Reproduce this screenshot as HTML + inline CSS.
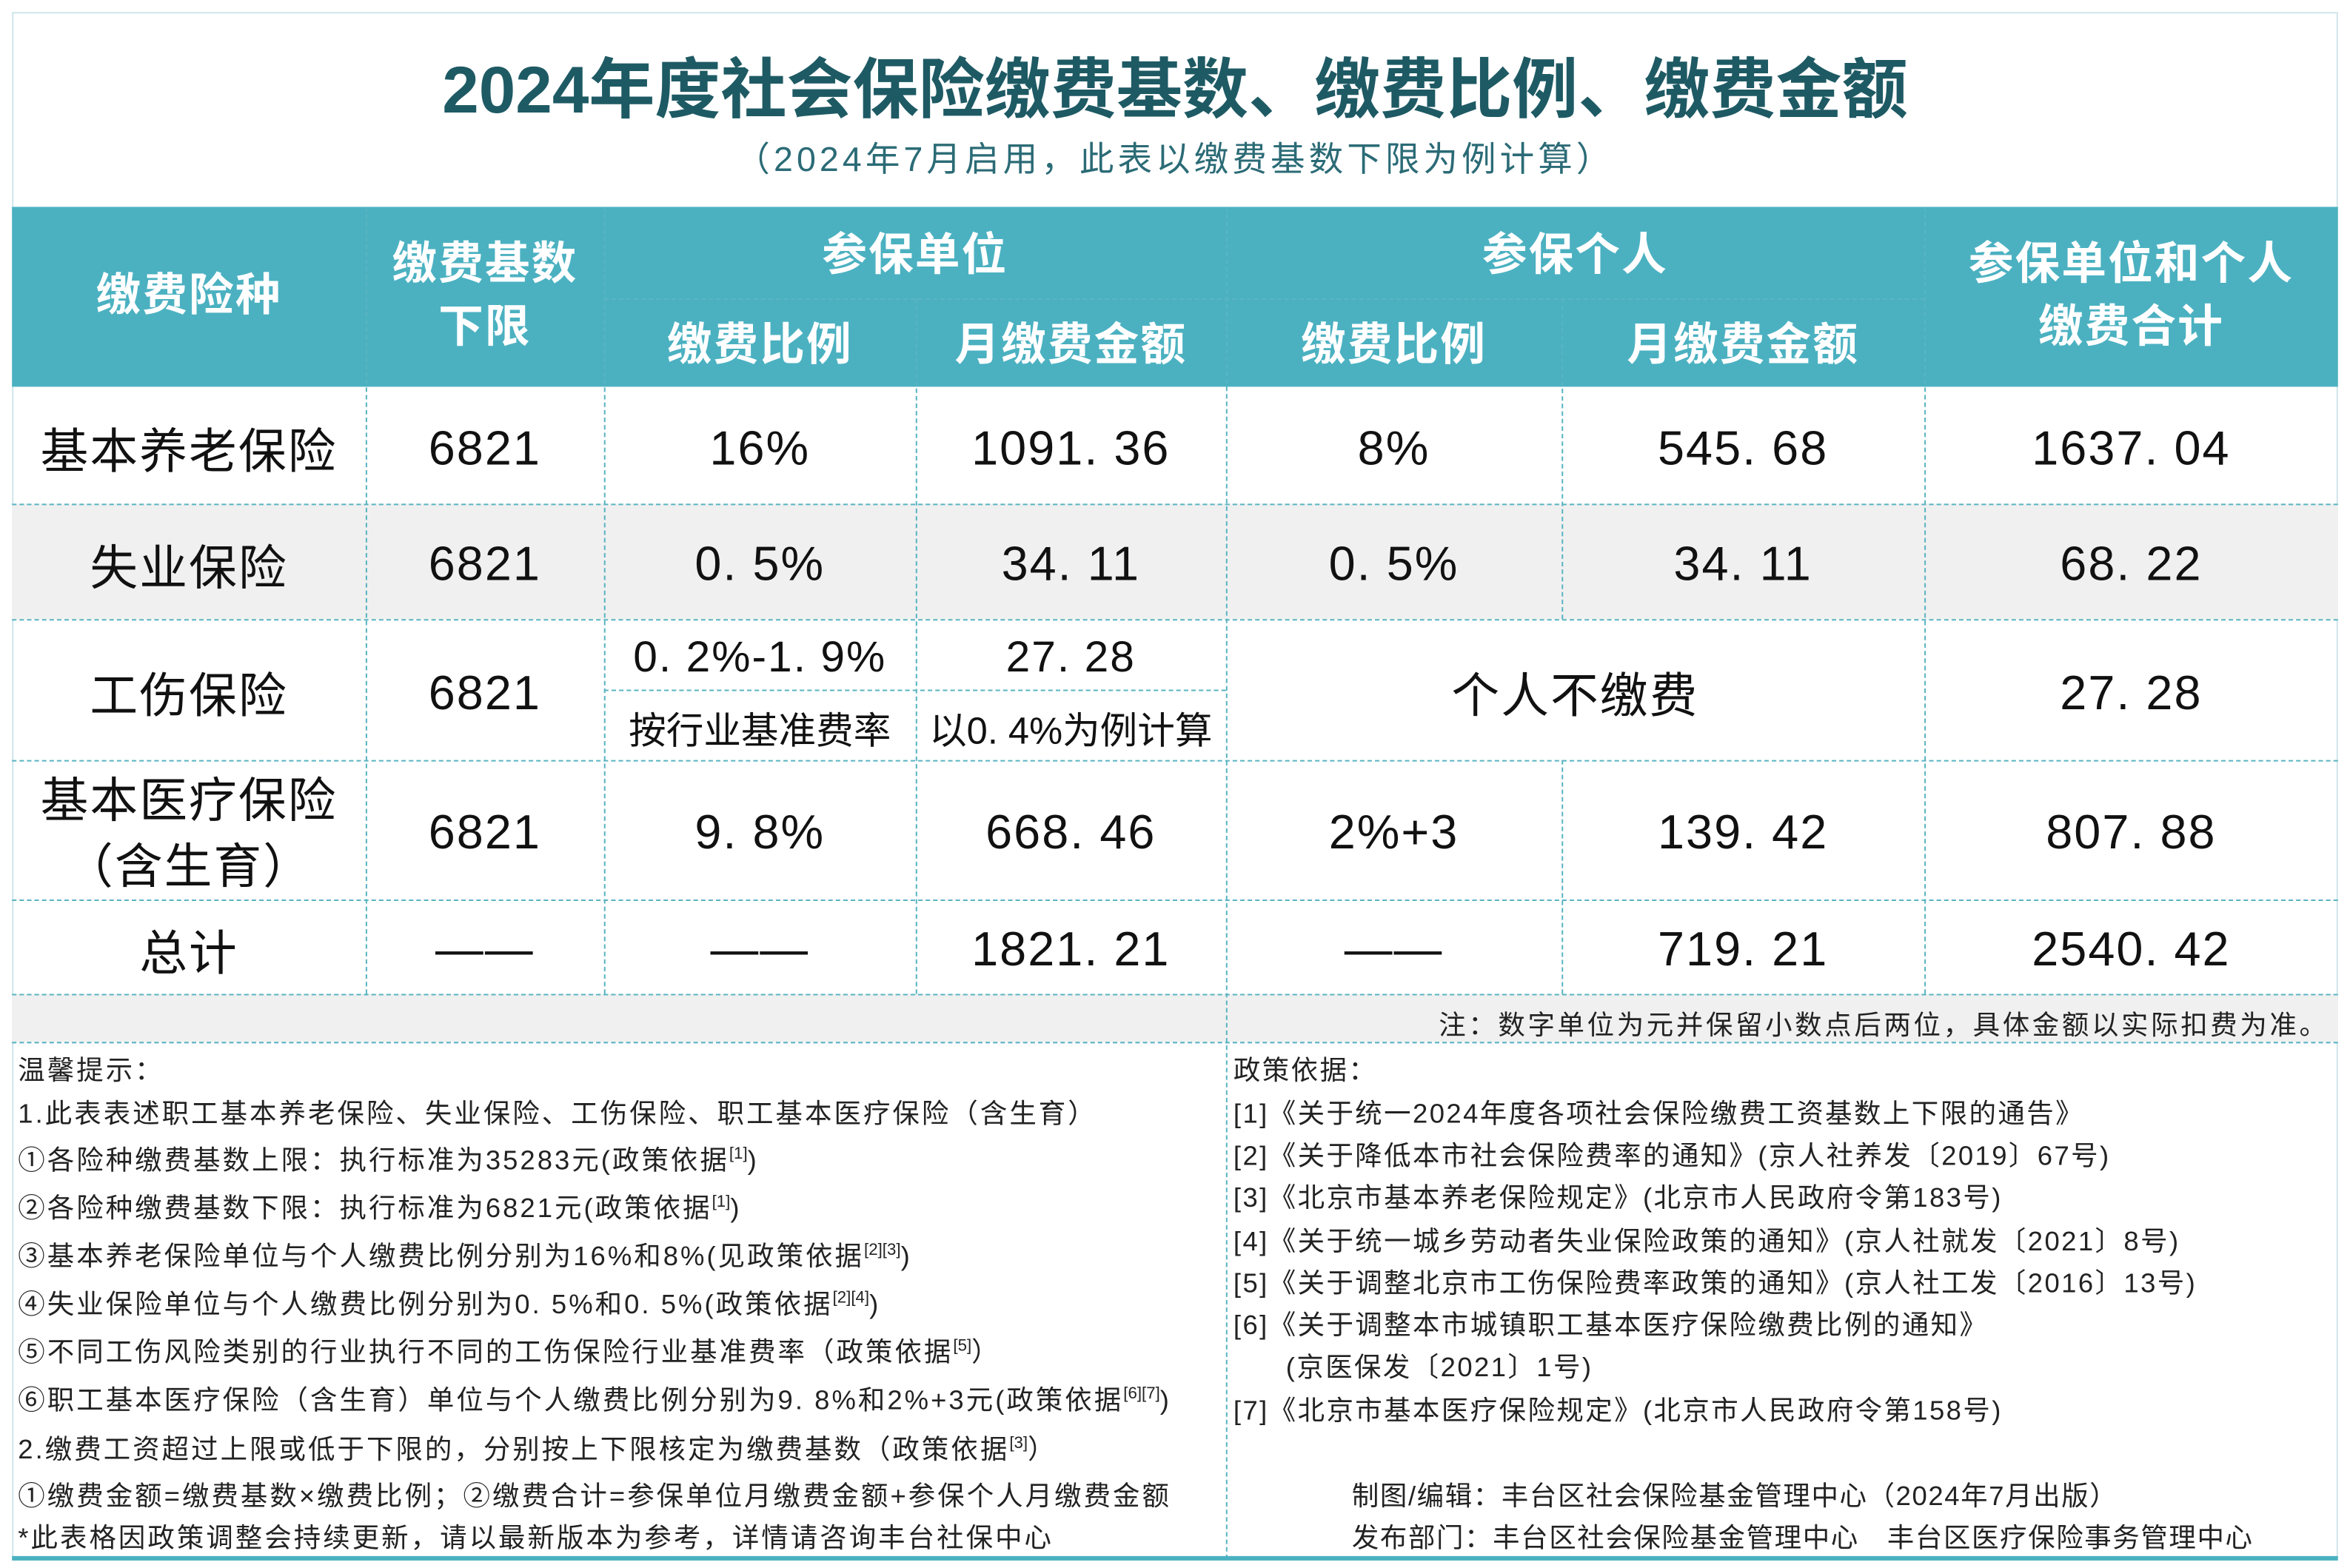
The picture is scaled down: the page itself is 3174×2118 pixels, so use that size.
<!DOCTYPE html>
<html><head><meta charset="utf-8"><style>
html,body{margin:0;padding:0;background:#fff;}
body{width:3174px;height:2118px;overflow:hidden;position:relative;}
#s{position:absolute;left:0;top:0;width:1568px;height:1046px;transform:scale(2.0242,2.0249);transform-origin:0 0;font-family:"Liberation Sans","Noto Sans CJK SC",sans-serif;}
.a{position:absolute;box-sizing:border-box;}
.c{position:absolute;box-sizing:border-box;display:flex;align-items:center;justify-content:center;text-align:center;color:#111;}
.h{color:#fff;font-size:30px;line-height:42px;font-weight:bold;letter-spacing:1px;}
.d{font-size:32px;letter-spacing:1px;}
.vl{position:absolute;width:0;border-left:1px dashed #5ab4c2;}
.hl{position:absolute;height:0;border-top:1px dashed #5ab4c2;}
.t{position:absolute;font-size:18px;color:#222;white-space:nowrap;letter-spacing:1.5px;}
.r{letter-spacing:1.2px;}
sup{font-size:11px;letter-spacing:0;}
</style></head><body><div id="s">
<div class="a" style="left:8px;top:8px;width:1552px;height:1032px;border:1px solid #cfe6ea;"></div>
<div class="c" style="left:8px;top:28px;width:1552px;height:56px;font-size:44px;font-weight:bold;color:#1e5a64;">2024年度社会保险缴费基数、缴费比例、缴费金额</div>
<div class="c" style="left:8px;top:88px;width:1552px;height:32px;font-size:23px;color:#2b6b76;letter-spacing:2.5px;">（2024年7月启用，此表以缴费基数下限为例计算）</div>
<div class="a" style="left:8px;top:138px;width:1552px;height:120px;background:#4bb1c1;"></div>
<div class="a" style="left:8px;top:336px;width:1552px;height:77px;background:#f0f0f0;"></div>
<div class="a" style="left:8px;top:663px;width:1552px;height:32px;background:#f0f0f0;"></div>
<div class="c h" style="left:8px;top:138px;width:236px;height:120px;">缴费险种</div>
<div class="c h" style="left:244px;top:138px;width:159px;height:120px;">缴费基数<br>下限</div>
<div class="c h" style="left:403px;top:140px;width:415px;height:61px;">参保单位</div>
<div class="c h" style="left:818px;top:140px;width:466px;height:61px;">参保个人</div>
<div class="c h" style="left:1284px;top:138px;width:276px;height:120px;">参保单位和个人<br>缴费合计</div>
<div class="c h" style="left:403px;top:200px;width:208px;height:62px;">缴费比例</div>
<div class="c h" style="left:611px;top:200px;width:207px;height:62px;">月缴费金额</div>
<div class="c h" style="left:818px;top:200px;width:224px;height:62px;">缴费比例</div>
<div class="c h" style="left:1042px;top:200px;width:242px;height:62px;">月缴费金额</div>
<div class="vl" style="left:244px;top:138px;height:525px;"></div>
<div class="vl" style="left:403px;top:138px;height:525px;"></div>
<div class="vl" style="left:611px;top:199px;height:464px;"></div>
<div class="vl" style="left:818px;top:138px;height:902px;"></div>
<div class="vl" style="left:1042px;top:199px;height:214px;"></div>
<div class="vl" style="left:1042px;top:507px;height:156px;"></div>
<div class="vl" style="left:1284px;top:138px;height:525px;"></div>
<div class="hl" style="left:403px;top:199px;width:881px;"></div>
<div class="hl" style="left:8px;top:336px;width:1552px;"></div>
<div class="hl" style="left:8px;top:413px;width:1552px;"></div>
<div class="hl" style="left:403px;top:460px;width:415px;"></div>
<div class="hl" style="left:8px;top:507px;width:1552px;"></div>
<div class="hl" style="left:8px;top:600px;width:1552px;"></div>
<div class="hl" style="left:8px;top:663px;width:1552px;"></div>
<div class="hl" style="left:8px;top:695px;width:1552px;"></div>
<div class="a" style="left:8px;top:1038px;width:1552px;height:3px;background:#4bb1c1;"></div>
<div class="c d" style="left:8px;top:258px;width:236px;height:82px;">基本养老保险</div>
<div class="c d" style="left:244px;top:258px;width:159px;height:82px;">6821</div>
<div class="c d" style="left:403px;top:258px;width:208px;height:82px;">16%</div>
<div class="c d" style="left:611px;top:258px;width:207px;height:82px;">1091. 36</div>
<div class="c d" style="left:818px;top:258px;width:224px;height:82px;">8%</div>
<div class="c d" style="left:1042px;top:258px;width:242px;height:82px;">545. 68</div>
<div class="c d" style="left:1284px;top:258px;width:276px;height:82px;">1637. 04</div>
<div class="c d" style="left:8px;top:336px;width:236px;height:81px;">失业保险</div>
<div class="c d" style="left:244px;top:336px;width:159px;height:81px;">6821</div>
<div class="c d" style="left:403px;top:336px;width:208px;height:81px;">0. 5%</div>
<div class="c d" style="left:611px;top:336px;width:207px;height:81px;">34. 11</div>
<div class="c d" style="left:818px;top:336px;width:224px;height:81px;">0. 5%</div>
<div class="c d" style="left:1042px;top:336px;width:242px;height:81px;">34. 11</div>
<div class="c d" style="left:1284px;top:336px;width:276px;height:81px;">68. 22</div>
<div class="c d" style="left:8px;top:413px;width:236px;height:98px;">工伤保险</div>
<div class="c d" style="left:244px;top:413px;width:159px;height:98px;">6821</div>
<div class="c" style="left:403px;top:416px;width:208px;height:47px;font-size:29px;letter-spacing:1px;">0. 2%-1. 9%</div>
<div class="c" style="left:611px;top:416px;width:207px;height:47px;font-size:29px;letter-spacing:1px;">27. 28</div>
<div class="c" style="left:403px;top:462px;width:208px;height:47px;font-size:25px;">按行业基准费率</div>
<div class="c" style="left:611px;top:462px;width:207px;height:47px;font-size:25px;">以0. 4%为例计算</div>
<div class="c d" style="left:818px;top:413px;width:466px;height:98px;">个人不缴费</div>
<div class="c d" style="left:1284px;top:413px;width:276px;height:98px;">27. 28</div>
<div class="c d" style="left:8px;top:507px;width:236px;height:97px;line-height:44px;">基本医疗保险<br>（含生育）</div>
<div class="c d" style="left:244px;top:507px;width:159px;height:97px;">6821</div>
<div class="c d" style="left:403px;top:507px;width:208px;height:97px;">9. 8%</div>
<div class="c d" style="left:611px;top:507px;width:207px;height:97px;">668. 46</div>
<div class="c d" style="left:818px;top:507px;width:224px;height:97px;">2%+3</div>
<div class="c d" style="left:1042px;top:507px;width:242px;height:97px;">139. 42</div>
<div class="c d" style="left:1284px;top:507px;width:276px;height:97px;">807. 88</div>
<div class="c d" style="left:8px;top:600px;width:236px;height:67px;">总计</div>
<div class="c d" style="left:244px;top:600px;width:159px;height:67px;">——</div>
<div class="c d" style="left:403px;top:600px;width:208px;height:67px;">——</div>
<div class="c d" style="left:611px;top:600px;width:207px;height:67px;">1821. 21</div>
<div class="c d" style="left:818px;top:600px;width:224px;height:67px;">——</div>
<div class="c d" style="left:1042px;top:600px;width:242px;height:67px;">719. 21</div>
<div class="c d" style="left:1284px;top:600px;width:276px;height:67px;">2540. 42</div>
<div class="t" style="right:14px;top:670px;font-size:18px;letter-spacing:1.8px;">注：数字单位为元并保留小数点后两位，具体金额以实际扣费为准。</div>
<div class="t" style="left:12px;top:700px;">温馨提示：</div>
<div class="t" style="left:12px;top:729px;">1.此表表述职工基本养老保险、失业保险、工伤保险、职工基本医疗保险（含生育）</div>
<div class="t" style="left:12px;top:760px;">①各险种缴费基数上限：执行标准为35283元(政策依据<sup>[1]</sup>)</div>
<div class="t" style="left:12px;top:792px;">②各险种缴费基数下限：执行标准为6821元(政策依据<sup>[1]</sup>)</div>
<div class="t" style="left:12px;top:824px;">③基本养老保险单位与个人缴费比例分别为16%和8%(见政策依据<sup>[2][3]</sup>)</div>
<div class="t" style="left:12px;top:856px;">④失业保险单位与个人缴费比例分别为0. 5%和0. 5%(政策依据<sup>[2][4]</sup>)</div>
<div class="t" style="left:12px;top:888px;">⑤不同工伤风险类别的行业执行不同的工伤保险行业基准费率（政策依据<sup>[5]</sup>）</div>
<div class="t" style="left:12px;top:920px;">⑥职工基本医疗保险（含生育）单位与个人缴费比例分别为9. 8%和2%+3元(政策依据<sup>[6][7]</sup>)</div>
<div class="t" style="left:12px;top:953px;">2.缴费工资超过上限或低于下限的，分别按上下限核定为缴费基数（政策依据<sup>[3]</sup>）</div>
<div class="t" style="left:12px;top:984px;">①缴费金额=缴费基数×缴费比例；②缴费合计=参保单位月缴费金额+参保个人月缴费金额</div>
<div class="t" style="left:12px;top:1012px;">*此表格因政策调整会持续更新，请以最新版本为参考，详情请咨询丰台社保中心</div>
<div class="t r" style="left:823px;top:700px;">政策依据：</div>
<div class="t r" style="left:823px;top:729px;">[1]《关于统一2024年度各项社会保险缴费工资基数上下限的通告》</div>
<div class="t r" style="left:823px;top:757px;">[2]《关于降低本市社会保险费率的通知》(京人社养发〔2019〕67号)</div>
<div class="t r" style="left:823px;top:785px;">[3]《北京市基本养老保险规定》(北京市人民政府令第183号)</div>
<div class="t r" style="left:823px;top:814px;">[4]《关于统一城乡劳动者失业保险政策的通知》(京人社就发〔2021〕8号)</div>
<div class="t r" style="left:823px;top:842px;">[5]《关于调整北京市工伤保险费率政策的通知》(京人社工发〔2016〕13号)</div>
<div class="t r" style="left:823px;top:870px;">[6]《关于调整本市城镇职工基本医疗保险缴费比例的通知》</div>
<div class="t r" style="left:858px;top:898px;">(京医保发〔2021〕1号)</div>
<div class="t r" style="left:823px;top:927px;">[7]《北京市基本医疗保险规定》(北京市人民政府令第158号)</div>
<div class="t" style="left:902px;top:984px;letter-spacing:0.8px;">制图/编辑：丰台区社会保险基金管理中心（2024年7月出版）</div>
<div class="t" style="left:902px;top:1012px;letter-spacing:0.8px;">发布部门：丰台区社会保险基金管理中心　丰台区医疗保险事务管理中心</div>
</div></body></html>
